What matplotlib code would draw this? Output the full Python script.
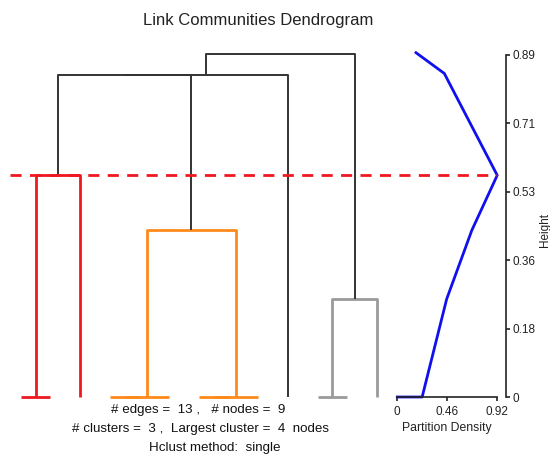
import matplotlib
matplotlib.use('Agg')
import matplotlib.pyplot as plt

plt.rcParams['font.family'] = ['Liberation Sans', 'DejaVu Sans']

# dendrogram of 13 links (R hclust style merge table, negative = leaf)
merge_left = [-1, 1, -4, 3, -7, 5, 4, -11, 8, 2, 10, 11]
merge_right = [-2, -3, -5, -6, -8, -9, 6, -12, -13, 7, -10, 9]
merge_height = [0, 0.577, 0, 0, 0, 0, 0.434, 0, 0.255, 0.838, 0.838, 0.8925]
merge_color = ['#f01820', '#f01820', '#ff8a1c', '#ff8a1c', '#ff8a1c', '#ff8a1c',
               '#ff8a1c', '#9a9a9a', '#9a9a9a', '#333333', '#333333', '#333333']
leaf_order = [1, 2, 3, 4, 5, 6, 7, 8, 9, 10, 11, 12, 13]
cut_height = 0.577

# partition density curve
pd_height = [0, 0, 0.255, 0.434, 0.577, 0.842, 0.896]
pd_density = [0, 0.23, 0.457, 0.69, 0.925, 0.435, 0.173]
pd_ticks = [0, 0.46, 0.92]
pd_ticklabels = ['0', '0.46', '0.92']
h_ticks = [0, 0.178, 0.356, 0.534, 0.712, 0.89]
h_ticklabels = ['0', '0.18', '0.36', '0.53', '0.71', '0.89']

W, H = 550, 457
fig = plt.figure(figsize=(5.5, 4.57), dpi=100)

def rect(x0, x1, y0, y1):
    return [x0 / W, (H - y1) / H, (x1 - x0) / W, (y1 - y0) / H]

# --- dendrogram ---
ax = fig.add_axes(rect(20.7, 377, 55, 397))
ax.set_xlim(1, 13)
ax.set_ylim(0, 0.89)
ax.axis('off')

pos = {}
for i, leaf in enumerate(leaf_order):
    pos[-leaf] = (i + 1, 0.0)

for k in range(len(merge_left)):
    l, r = merge_left[k], merge_right[k]
    xl, yl = pos[l] if l < 0 else pos[('m', l)]
    xr, yr = pos[r] if r < 0 else pos[('m', r)]
    h = merge_height[k]
    c = merge_color[k]
    lw = 1.4 if c == '#333333' else 2.0
    ax.plot([xl, xl, xr, xr], [yl, h, h, yr], color=c, lw=lw,
            solid_capstyle='butt', clip_on=False)
    pos[('m', k + 1)] = ((xl + xr) / 2, h)

# --- partition density panel ---
ax2 = fig.add_axes(rect(397.3, 496.7, 55, 397))
ax2.set_xlim(0, 0.92)
ax2.set_ylim(0, 0.89)
ax2.plot(pd_density, pd_height, color='#1010ee', lw=2, clip_on=False)
ax2.patch.set_alpha(0)
for s in ['top', 'left']:
    ax2.spines[s].set_visible(False)
ax2.spines['bottom'].set_bounds(0, 0.92)
ax2.spines['right'].set_position(('outward', 6.7))
ax2.spines['right'].set_bounds(0, 0.89)
for s in ['bottom', 'right']:
    ax2.spines[s].set_linewidth(1.2)
    ax2.spines[s].set_color('#222222')
ax2.yaxis.tick_right()
ax2.set_xticks(pd_ticks)
ax2.set_xticklabels(pd_ticklabels)
ax2.set_yticks(h_ticks)
ax2.set_yticklabels(h_ticklabels)
ax2.tick_params(direction='out', length=3, width=1.2, labelsize=8.5,
                colors='#222222', pad=2)
ax2.tick_params(axis='x', pad=3.5)
ax2.set_xlabel('Partition Density', fontsize=8.8, color='#222222', labelpad=2.5)

# cut line across both panels
fig.add_artist(plt.Line2D([10 / W, 497 / W],
                          [(H - 397 + cut_height * 384.3) / H] * 2,
                          color='#f01820', lw=2, ls=(0, (4, 3))))

fig.text(545 / W, 1 - 230 / H, 'Height', rotation=90, fontsize=8.5,
         color='#222222', ha='center', va='center')
fig.text(258 / W, 1 - 20 / H, 'Link Communities Dendrogram', fontsize=12,
         color='#222222', ha='center', va='center')
fig.text(198 / W, 1 - 410 / H, '# edges =  13 ,   # nodes =  9', fontsize=9.6,
         color='#111111', ha='center', va='center')
fig.text(200 / W, 1 - 429 / H, '# clusters =  3 ,  Largest cluster =  4  nodes',
         fontsize=9.6, color='#111111', ha='center', va='center')
fig.text(215 / W, 1 - 448 / H, 'Hclust method:  single', fontsize=9.6,
         color='#111111', ha='center', va='center')

fig.savefig('out.png', dpi=100)
